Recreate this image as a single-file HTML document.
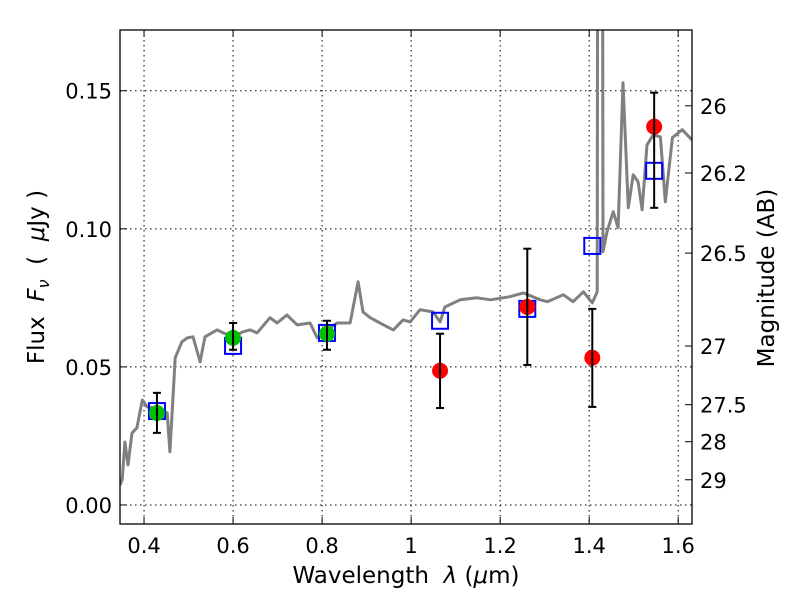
<!DOCTYPE html>
<html><head><meta charset="utf-8"><style>
body{margin:0;background:#fff}
svg text{font-family:"DejaVu Sans","Liberation Sans",sans-serif;fill:#000}
</style></head><body>
<svg id="chart" width="800" height="600" viewBox="0 0 800 600" xmlns="http://www.w3.org/2000/svg">
<defs><clipPath id="clip"><rect x="120" y="30" width="572" height="494"/></clipPath></defs>
<rect width="800" height="600" fill="#fff"/>
<g id="grid"></g>
<g id="plot" clip-path="url(#clip)"></g>
<rect x="120" y="30" width="572" height="494" fill="none" stroke="#000" stroke-width="1.3"/>
<g id="axes"></g>
<text x="406" y="583" font-size="23" text-anchor="middle" xml:space="preserve">Wavelength  <tspan font-style="italic">λ</tspan> (<tspan font-style="italic">μ</tspan>m)</text>
<text transform="translate(44,277) rotate(-90)" font-size="23" text-anchor="middle" xml:space="preserve">Flux  <tspan font-style="italic">F</tspan><tspan font-style="italic" font-size="16" dy="5">ν</tspan><tspan dy="-5">  (  </tspan><tspan font-style="italic">μ</tspan>Jy )</text>
<text transform="translate(774,278) rotate(-90)" font-size="23" text-anchor="middle">Magnitude (AB)</text>
</svg>
<script>
const specWl=[0.346,0.351,0.357,0.364,0.373,0.384,0.396,0.407,0.429,0.452,0.458,0.463,0.470,0.485,0.497,0.510,0.526,0.537,0.564,0.578,0.600,0.622,0.638,0.654,0.683,0.699,0.721,0.744,0.773,0.789,0.802,0.834,0.863,0.881,0.892,0.908,0.930,0.960,0.982,0.998,1.020,1.049,1.065,1.076,1.110,1.148,1.178,1.222,1.252,1.290,1.306,1.342,1.364,1.387,1.407,1.418,1.420,1.429,1.431,1.440,1.454,1.465,1.476,1.488,1.499,1.510,1.519,1.530,1.544,1.560,1.571,1.587,1.609,1.631];
const specFlux=[0.0072,0.0091,0.0228,0.0145,0.0261,0.0279,0.0380,0.0355,0.0351,0.0333,0.0192,0.0333,0.0533,0.0591,0.0605,0.0609,0.0518,0.0609,0.0634,0.0623,0.0609,0.0627,0.0634,0.0623,0.0678,0.0659,0.0688,0.0652,0.0659,0.0605,0.0623,0.0659,0.0659,0.0808,0.0699,0.0678,0.0659,0.0634,0.0670,0.0663,0.0707,0.0699,0.0663,0.0717,0.0743,0.0750,0.0743,0.0754,0.0768,0.0743,0.0736,0.0761,0.0736,0.0772,0.0732,0.0772,0.35,0.35,0.0917,0.0989,0.1062,0.1004,0.1529,0.1076,0.1196,0.1170,0.1069,0.1304,0.1341,0.1333,0.1098,0.1330,0.1359,0.1322];
const modelWl=[0.429,0.600,0.811,1.065,1.261,1.407,1.546];
const modelFlux=[0.034,0.0576,0.0623,0.0667,0.0710,0.0938,0.121];
const greenWl=[0.429,0.600,0.811];
const greenFlux=[0.0333,0.0605,0.062];
const greenHi=[0.0406,0.0659,0.0667];
const greenLo=[0.0261,0.0562,0.0562];
const redWl=[1.065,1.261,1.407,1.546];
const redFlux=[0.0486,0.0717,0.0533,0.137];
const redHi=[0.062,0.0928,0.0710,0.1493];
const redLo=[0.0351,0.0507,0.0355,0.1076];
const xTicks=[0.4,0.6,0.8,1.0,1.2,1.4,1.6];
const xTickLabels=["0.4","0.6","0.8","1","1.2","1.4","1.6"];
const yTicks=[0,0.05,0.10,0.15];
const yTickLabels=["0.00","0.05","0.10","0.15"];
const magTicks=[26,26.2,26.5,27,27.5,28,29];
const magTickLabels=["26","26.2","26.5","27","27.5","28","29"];

const X0=120,X1=692,Y0=30,Y1=524,XMIN=0.346,XMAX=1.631,YMIN=-0.0069,YMAX=0.172;
const sx=v=>X0+(v-XMIN)/(XMAX-XMIN)*(X1-X0);
const sy=v=>Y1-(v-YMIN)/(YMAX-YMIN)*(Y1-Y0);
const NS="http://www.w3.org/2000/svg";
function mk(parent,tag,attrs){const e=document.createElementNS(NS,tag);for(const k in attrs)e.setAttribute(k,attrs[k]);parent.appendChild(e);return e;}
const grid=document.getElementById('grid'),plot=document.getElementById('plot'),axes=document.getElementById('axes');

xTicks.forEach((t,i)=>{
  const x=sx(t);
  const g=mk(grid,'line',{x1:x,x2:x,y1:Y0,y2:Y1,stroke:'#000','stroke-width':1,'stroke-dasharray':'1.5,3.5'});
  
  
  mk(axes,'line',{x1:x,x2:x,y1:Y1,y2:Y1-7,stroke:'#000'});
  mk(axes,'line',{x1:x,x2:x,y1:Y0,y2:Y0+7,stroke:'#000'});
  const tx=mk(axes,'text',{x:x,y:Y1+29,'font-size':21,'text-anchor':'middle'});
  tx.textContent=xTickLabels[i];
  
  
});
yTicks.forEach((t,i)=>{
  const y=sy(t);
  const g=mk(grid,'line',{x1:X0,x2:X1,y1:y,y2:y,stroke:'#000','stroke-width':1,'stroke-dasharray':'1.5,3.5'});
  
  
  mk(axes,'line',{x1:X0,x2:X0+7,y1:y,y2:y,stroke:'#000'});
  const tx=mk(axes,'text',{x:X0-8,y:y+8,'font-size':21,'text-anchor':'end'});
  tx.textContent=yTickLabels[i];
  
  
});
magTicks.forEach((m,i)=>{
  const f=Math.pow(10,(23.9-m)/2.5);
  const y=sy(f);
  mk(axes,'line',{x1:X1,x2:X1-7,y1:y,y2:y,stroke:'#000'});
  const tx=mk(axes,'text',{x:X1+8,y:y+8,'font-size':21,'text-anchor':'start'});
  tx.textContent=magTickLabels[i];
  
  
});

const pts=specWl.map((w,i)=>sx(w).toFixed(1)+','+sy(specFlux[i]).toFixed(1)).join(' ');
const sp=mk(plot,'polyline',{points:pts,fill:'none',stroke:'#808080','stroke-width':3,'stroke-linejoin':'round'});



function errbar(w,lo,hi){
  const x=sx(w);
  mk(plot,'line',{x1:x,x2:x,y1:sy(lo),y2:sy(hi),stroke:'#000','stroke-width':2});
  mk(plot,'line',{x1:x-4,x2:x+4,y1:sy(lo),y2:sy(lo),stroke:'#000','stroke-width':2});
  mk(plot,'line',{x1:x-4,x2:x+4,y1:sy(hi),y2:sy(hi),stroke:'#000','stroke-width':2});
}
modelWl.forEach((w,i)=>{
  const r=mk(plot,'rect',{x:sx(w)-8,y:sy(modelFlux[i])-8,width:16,height:16,fill:'none',stroke:'#0000ff','stroke-width':2});
  
  
});
greenWl.forEach((w,i)=>{
  const c=mk(plot,'circle',{cx:sx(w),cy:sy(greenFlux[i]),r:8,fill:'#00c000'});
  
  
  errbar(w,greenLo[i],greenHi[i]);
});
redWl.forEach((w,i)=>{
  const c=mk(plot,'circle',{cx:sx(w),cy:sy(redFlux[i]),r:8,fill:'#ff0000'});
  
  
  errbar(w,redLo[i],redHi[i]);
});
</script>
</body></html>
